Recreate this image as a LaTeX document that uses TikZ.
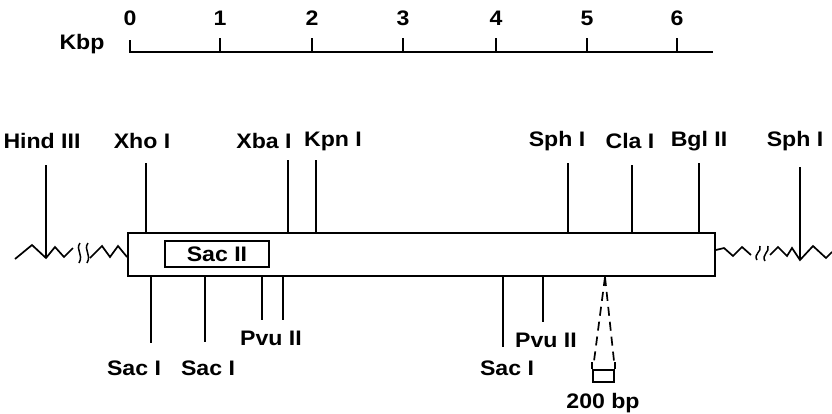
\documentclass[tikz,border=0pt]{standalone}
\usepackage{fontspec}
\newfontfamily\labfont{Liberation Sans}[FakeStretch=1.1]
\begin{document}
\begin{tikzpicture}[x=1pt,y=-1pt,line width=1.8pt,line join=miter,
  lab/.style={font=\labfont\bfseries\fontsize{21}{21}\selectfont,inner sep=0pt},
  siteline/.style={line width=1.9pt},
  zig/.style={line width=1.7pt,line join=miter},
  dashline/.style={line width=1.7pt,dash pattern=on 9pt off 6pt}]
\useasboundingbox (0,0) rectangle (832,413);
% scale bar
\node[lab] (kbp) at (82,44) {Kbp};
\coordinate (s0) at (130,52);
\coordinate (s6e) at (713,52);
\draw (130,40) -- (s0) -- (s6e);
\foreach \x/\n in {220/1,312/2,403/3,496/4,587/5,677/6}{
  \draw (\x,38) -- (\x,52);
}
\foreach \x/\n in {130/0,220/1,312/2,403/3,496/4,587/5,677/6}{
  \node[lab] (num\n) at (\x,18) {\n};
}
% main box
\node[draw,line width=1.9pt,minimum width=587pt,minimum height=43pt,inner sep=0pt] (plasmid) at (421.5,254.5) {};
\node[draw,lab,line width=1.8pt,minimum width=104pt,minimum height=26pt] (sacII) at (217,254) {Sac II};
% left zigzag
\draw[zig] (15,259) -- (32,245) -- (46,258) -- (55,247) -- (64,257) -- (73,248);
\draw[zig] (90,258) -- (102,246) -- (110,257) -- (118,246) -- (plasmid.west |- 0,257);
\draw[line width=1.5pt] (80,243) .. controls (75,250) and (84,254) .. (79,263);
\draw[line width=1.5pt] (88,243) .. controls (83,250) and (92,254) .. (87,263);
% right zigzag
\draw[zig] (plasmid.east |- 0,250) -- (724,248) -- (733,256) -- (742,247) -- (751,255);
\draw[zig] (770,255) -- (778,247) -- (787,256) -- (792,248) -- (800,260) -- (813,246) -- (826,258) -- (832,252);
\draw[line width=1.5pt] (757,260) .. controls (753,254) and (762,252) .. (760,246);
\draw[line width=1.5pt] (765,261) .. controls (761,255) and (770,252) .. (768,246);
% top sites
\node[lab] (hind) at (42,141) {Hind III};
\node[lab] (xho) at (142,141) {Xho I};
\node[lab] (xba) at (264,141) {Xba I};
\node[lab] (kpn) at (333,141) {Kpn I};
\node[lab] (sph1) at (557,141) {Sph I};
\node[lab] (cla) at (630,141) {Cla I};
\node[lab] (bgl) at (699,141) {Bgl II};
\node[lab] (sph2) at (795,141) {Sph I};
\draw[siteline] (46,165) -- (46,258);
\draw[siteline] (800,167) -- (800,260);
\foreach \x/\y in {146/163,288/160,316/160,568/163,632/165,699/163}{
  \draw[siteline] (\x,\y) -- (\x,233);
}
% bottom sites
\foreach \x/\y in {151/343,205/342,262/320,283/320,503/347,543/322}{
  \draw[siteline] (\x,276) -- (\x,\y);
}
\node[lab] (sacA) at (134,368) {Sac I};
\node[lab] (sacB) at (208,368) {Sac I};
\node[lab] (pvuA) at (271,338) {Pvu II};
\node[lab] (pvuB) at (546,340) {Pvu II};
\node[lab] (sacC) at (507,368) {Sac I};
% 200 bp inset
\coordinate (apex) at (605,277);
\draw[dashline] (apex) -- (594,361);
\draw[dashline] (apex) -- (614,361);
\node[draw,line width=1.7pt,minimum width=21pt,minimum height=12pt,inner sep=0pt] (bp) at (603.5,376) {};
\draw[line width=1.7pt] (bp.north west) -- ++(0,-7);
\draw[line width=1.7pt] (bp.north east) -- ++(0,-7);
\node[lab,anchor=base] (bplab) at (603,408) {200 bp};
\end{tikzpicture}
\end{document}
